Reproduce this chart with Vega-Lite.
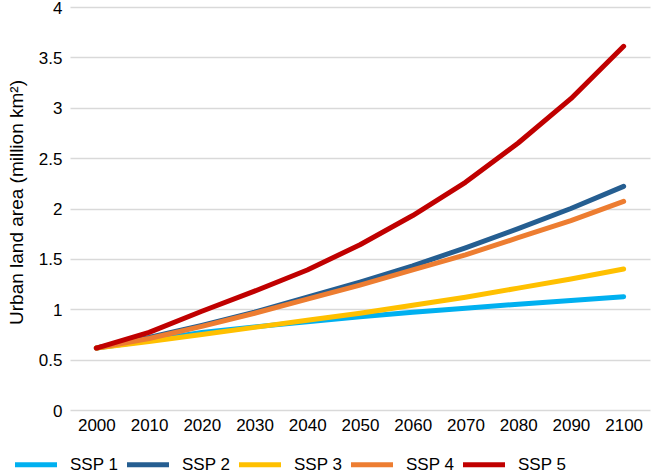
{
  "$schema": "https://vega.github.io/schema/vega-lite/v6.json",
  "width": 580,
  "height": 403,
  "autosize": {"type": "none"},
  "padding": {"left": 70, "top": 7, "right": 1, "bottom": 65},
  "background": "white",
  "config": {
    "view": {"stroke": null},
    "font": "Liberation Sans",
    "axis": {"labelFont": "Liberation Sans", "titleFont": "Liberation Sans", "labelColor": "#000000", "titleColor": "#000000"},
    "legend": {"labelFont": "Liberation Sans"}
  },
  "data": {
    "values": [
      {"year": 2000, "scenario": "SSP 1", "area": 0.615},
      {"year": 2010, "scenario": "SSP 1", "area": 0.69},
      {"year": 2020, "scenario": "SSP 1", "area": 0.77},
      {"year": 2030, "scenario": "SSP 1", "area": 0.825},
      {"year": 2040, "scenario": "SSP 1", "area": 0.875},
      {"year": 2050, "scenario": "SSP 1", "area": 0.925},
      {"year": 2060, "scenario": "SSP 1", "area": 0.97},
      {"year": 2070, "scenario": "SSP 1", "area": 1.01},
      {"year": 2080, "scenario": "SSP 1", "area": 1.05},
      {"year": 2090, "scenario": "SSP 1", "area": 1.088},
      {"year": 2100, "scenario": "SSP 1", "area": 1.125},
      {"year": 2000, "scenario": "SSP 2", "area": 0.615},
      {"year": 2010, "scenario": "SSP 2", "area": 0.72},
      {"year": 2020, "scenario": "SSP 2", "area": 0.84},
      {"year": 2030, "scenario": "SSP 2", "area": 0.97},
      {"year": 2040, "scenario": "SSP 2", "area": 1.12},
      {"year": 2050, "scenario": "SSP 2", "area": 1.27},
      {"year": 2060, "scenario": "SSP 2", "area": 1.43},
      {"year": 2070, "scenario": "SSP 2", "area": 1.61},
      {"year": 2080, "scenario": "SSP 2", "area": 1.80},
      {"year": 2090, "scenario": "SSP 2", "area": 2.00},
      {"year": 2100, "scenario": "SSP 2", "area": 2.22},
      {"year": 2000, "scenario": "SSP 3", "area": 0.615},
      {"year": 2010, "scenario": "SSP 3", "area": 0.68},
      {"year": 2020, "scenario": "SSP 3", "area": 0.75},
      {"year": 2030, "scenario": "SSP 3", "area": 0.82},
      {"year": 2040, "scenario": "SSP 3", "area": 0.89},
      {"year": 2050, "scenario": "SSP 3", "area": 0.96},
      {"year": 2060, "scenario": "SSP 3", "area": 1.04},
      {"year": 2070, "scenario": "SSP 3", "area": 1.12},
      {"year": 2080, "scenario": "SSP 3", "area": 1.21},
      {"year": 2090, "scenario": "SSP 3", "area": 1.30},
      {"year": 2100, "scenario": "SSP 3", "area": 1.40},
      {"year": 2000, "scenario": "SSP 4", "area": 0.615},
      {"year": 2010, "scenario": "SSP 4", "area": 0.71},
      {"year": 2020, "scenario": "SSP 4", "area": 0.83},
      {"year": 2030, "scenario": "SSP 4", "area": 0.96},
      {"year": 2040, "scenario": "SSP 4", "area": 1.10},
      {"year": 2050, "scenario": "SSP 4", "area": 1.24},
      {"year": 2060, "scenario": "SSP 4", "area": 1.39},
      {"year": 2070, "scenario": "SSP 4", "area": 1.54},
      {"year": 2080, "scenario": "SSP 4", "area": 1.71},
      {"year": 2090, "scenario": "SSP 4", "area": 1.88},
      {"year": 2100, "scenario": "SSP 4", "area": 2.07},
      {"year": 2000, "scenario": "SSP 5", "area": 0.615},
      {"year": 2010, "scenario": "SSP 5", "area": 0.77},
      {"year": 2020, "scenario": "SSP 5", "area": 0.98},
      {"year": 2030, "scenario": "SSP 5", "area": 1.18},
      {"year": 2040, "scenario": "SSP 5", "area": 1.39},
      {"year": 2050, "scenario": "SSP 5", "area": 1.64},
      {"year": 2060, "scenario": "SSP 5", "area": 1.93},
      {"year": 2070, "scenario": "SSP 5", "area": 2.26},
      {"year": 2080, "scenario": "SSP 5", "area": 2.65},
      {"year": 2090, "scenario": "SSP 5", "area": 3.09},
      {"year": 2100, "scenario": "SSP 5", "area": 3.61}
    ]
  },
  "mark": {"type": "line", "strokeWidth": 5, "strokeCap": "round", "strokeJoin": "round"},
  "encoding": {
    "x": {
      "field": "year",
      "type": "quantitative",
      "scale": {"domain": [1995, 2105], "nice": false, "zero": false},
      "axis": {
        "title": null,
        "values": [2000, 2010, 2020, 2030, 2040, 2050, 2060, 2070, 2080, 2090, 2100],
        "format": "d",
        "grid": false,
        "domain": false,
        "ticks": false,
        "labelFontSize": 17,
        "labelPadding": 7,
        "labelFlush": false
      }
    },
    "y": {
      "field": "area",
      "type": "quantitative",
      "scale": {"domain": [0, 4], "nice": false},
      "axis": {
        "title": "Urban land area (million km²)",
        "titleFontSize": 19,
        "titleFontWeight": "normal",
        "titleX": -54,
        "titleY": 195,
        "titleAngle": -90,
        "titleBaseline": "middle",
        "titleAlign": "center",
        "values": [0, 0.5, 1, 1.5, 2, 2.5, 3, 3.5, 4],
        "format": "~g",
        "labelFontSize": 17,
        "labelPadding": 8,
        "labelBaseline": "alphabetic",
        "labelOffset": 6,
        "labelFlush": false,
        "domain": false,
        "ticks": false,
        "grid": true,
        "gridColor": "#D9D9D9",
        "gridWidth": 1.5
      }
    },
    "color": {
      "field": "scenario",
      "type": "nominal",
      "scale": {
        "domain": ["SSP 1", "SSP 2", "SSP 3", "SSP 4", "SSP 5"],
        "range": ["#00B0F0", "#255E91", "#FFC000", "#ED7D31", "#C00000"]
      },
      "legend": {
        "title": null,
        "orient": "none",
        "direction": "horizontal",
        "legendX": -57.5,
        "legendY": 434,
        "symbolType": "stroke",
        "symbolSize": 1764,
        "symbolStrokeWidth": 5,
        "labelFontSize": 17,
        "labelOffset": 10.5,
        "columnPadding": -2,
        "labelColor": "#000000",
        "encoding": {"symbols": {"update": {"strokeCap": {"value": "round"}}}}
      }
    }
  }
}
